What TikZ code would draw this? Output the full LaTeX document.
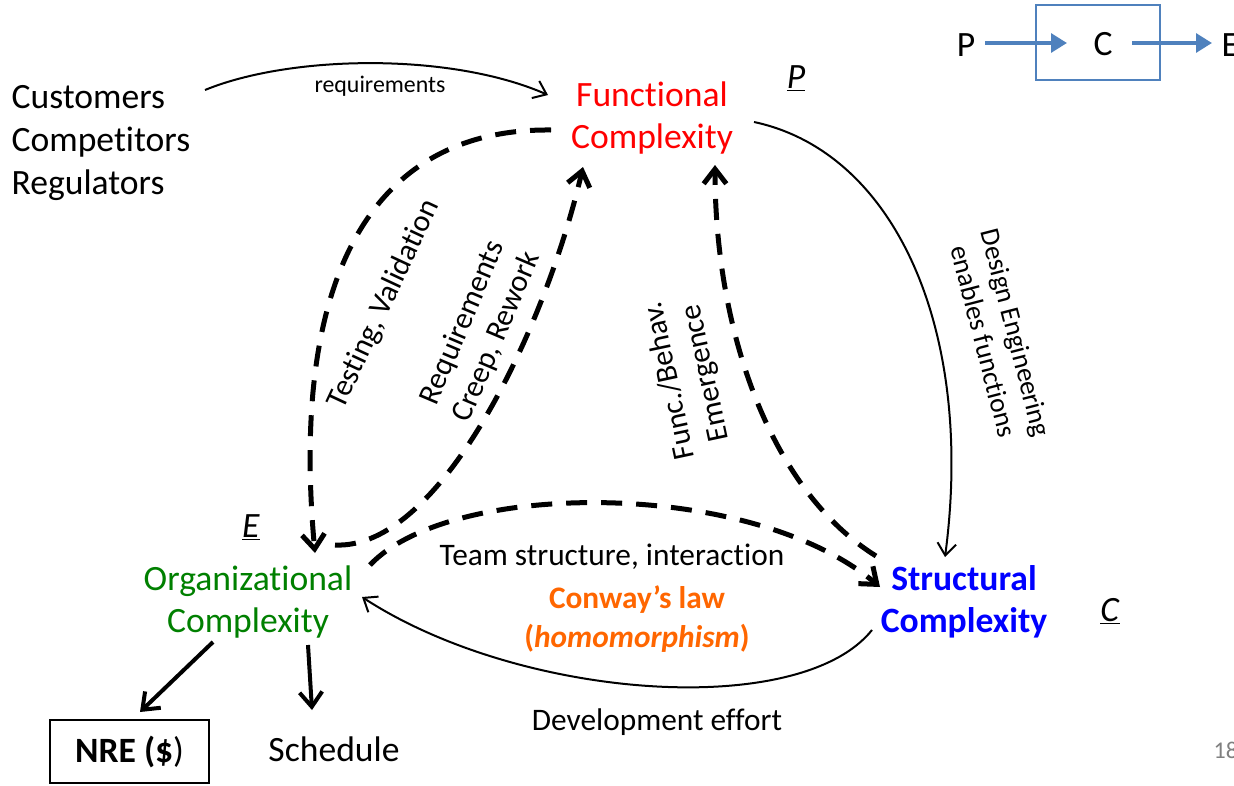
\documentclass[tikz,border=0pt]{standalone}
\usepackage{fontspec}
\setmainfont{Carlito}[Ligatures=NoCommon]
\usetikzlibrary{arrows.meta}
\definecolor{fred}{RGB}{255,0,0}
\definecolor{ogreen}{RGB}{0,128,0}
\definecolor{sblue}{RGB}{0,0,255}
\definecolor{corange}{RGB}{255,102,0}
\definecolor{boxblue}{RGB}{79,129,189}
\definecolor{pgray}{RGB}{128,128,128}
\begin{document}
\begin{tikzpicture}[x=0.75pt,y=-0.75pt,
  txt/.style={inner sep=1pt, align=center},
  big/.style={txt, font=\fontsize{26.7}{31.5}\selectfont},
  mid/.style={txt, font=\fontsize{23.5}{28}\selectfont},
  rot/.style={txt, font=\fontsize{23}{27.5}\selectfont},
  sml/.style={txt, font=\fontsize{20.6}{25}\selectfont},
  tiny/.style={txt, font=\fontsize{17.9}{21}\selectfont},
  dsh/.style={line width=3.75pt, dash pattern=on 15.75pt off 10.5pt,
    -{Straight Barb[length=11pt,width=17pt]}},
  thinarr/.style={line width=1.5pt, -{Straight Barb[length=9pt,width=14pt]}},
  thickarr/.style={line width=3pt, -{Straight Barb[length=11pt,width=17pt]}},
  pcarr/.style={line width=3pt, boxblue, -{Triangle[length=12pt,width=14pt]}}]
\path[use as bounding box, fill=white] (0,0) rectangle (1234,785);

% --- nodes
\node[big, align=left, anchor=west, font=\fontsize{26.7}{32}\selectfont] (cust) at (10,143) {Customers\\Competitors\\Regulators};
\node[big, text=fred] (func) at (652,118) {Functional\\Complexity};
\node[big] (pl) at (796,78) {\underline{\textit{P}}};
\node[big, text=ogreen] (org) at (248,602) {Organizational\\Complexity};
\node[big] (el) at (251,527) {\underline{\textit{E}}};
\node[big, text=sblue, font=\fontsize{26.7}{31.5}\selectfont\bfseries] (struc) at (964,602) {Structural\\Complexity};
\node[big] (cl) at (1110,611) {\underline{\textit{C}}};
\node[mid] (team) at (612,557) {Team structure, interaction};
\node[mid, text=corange, font=\fontsize{23.5}{28}\selectfont\bfseries] (conway) at (637,600) {Conway’s law};
\node[mid, text=corange, font=\fontsize{23.5}{28}\selectfont\bfseries] (homo) at (637,638) {(\textit{homomorphism})};
\node[mid] (dev) at (657,722) {Development effort};
\node[big, draw, line width=1.5pt, minimum width=119pt, minimum height=47pt] (nre) at (129.5,751.5) {\textbf{NRE (\$})};
\node[big] (sched) at (334,749) {Schedule};
\node[txt, anchor=west, text=pgray, font=\fontsize{18}{21}\selectfont] (pnum) at (1212,750) {18};

% rotated labels
\node[rot, rotate=65] (testlab) at (384,304) {Testing, Validation};
\node[rot, rotate=67] (creeplab) at (480,330) {Requirements\\Creep, Rework};
\node[rot, rotate=102] (emerglab) at (688,377) {Func./Behav.\\Emergence};
\node[sml, rotate=-75.5] (designlab) at (1000,337) {Design Engineering\\enables functions};
\node[tiny] (reqlab) at (380,86) {requirements};

% P -> C -> E mini diagram
\node[draw=boxblue, line width=1.5pt, minimum width=93pt, minimum height=56pt] (pcbox) at (1098,42.5) {};
\node[big] (pn) at (966,45) {P};
\node[big] (cn) at (1103,44) {C};
\node[big, anchor=west] (en) at (1220,45) {E};
\coordinate (pcstart) at (985,43);
\coordinate (pcin) at (1067,43);
\coordinate (pcout) at (1132,43);
\coordinate (pcend) at (1212,43);
\draw[pcarr] (pcstart) -- (pcin);
\draw[pcarr] (pcout) -- (pcend);

% --- connector end points
\coordinate (fa) at (551,130);
\coordinate (oa) at (315,553);
\coordinate (ob) at (335,545);
\coordinate (fb) at (583,167);
\coordinate (oc) at (370,565);
\coordinate (sc) at (880,587);
\coordinate (sd) at (876,556);
\coordinate (fd) at (715,165);
\coordinate (cr) at (205,90);
\coordinate (fr) at (548,95);
\coordinate (fe) at (754,122);
\coordinate (se) at (945,557);
\coordinate (sf) at (872,630);
\coordinate (of) at (362,597);
\coordinate (on) at (213,642);
\coordinate (nr) at (140,712);
\coordinate (os) at (308,645);
\coordinate (sh) at (312,710);

% --- dashed connectors
\draw[dsh] (fa) .. controls (370,128) and (290,280) .. (oa);
\draw[dsh] (ob) .. controls (440,550) and (545,330) .. (fb);
\draw[dsh] (oc) .. controls (450,480) and (750,478) .. (sc);
\draw[dsh] (sd) .. controls (770,490) and (715,330) .. (fd);

% --- thin connectors
\draw[thinarr] (cr) .. controls (290,55) and (450,52) .. (fr);
\draw[thinarr] (fe) .. controls (895,152) and (975,330) .. (se);
\draw[thinarr] (sf) .. controls (800,720) and (520,700) .. (of);

% --- thick solid
\draw[thickarr] (on) -- (nr);
\draw[thickarr] (os) -- (sh);
\end{tikzpicture}
\end{document}
